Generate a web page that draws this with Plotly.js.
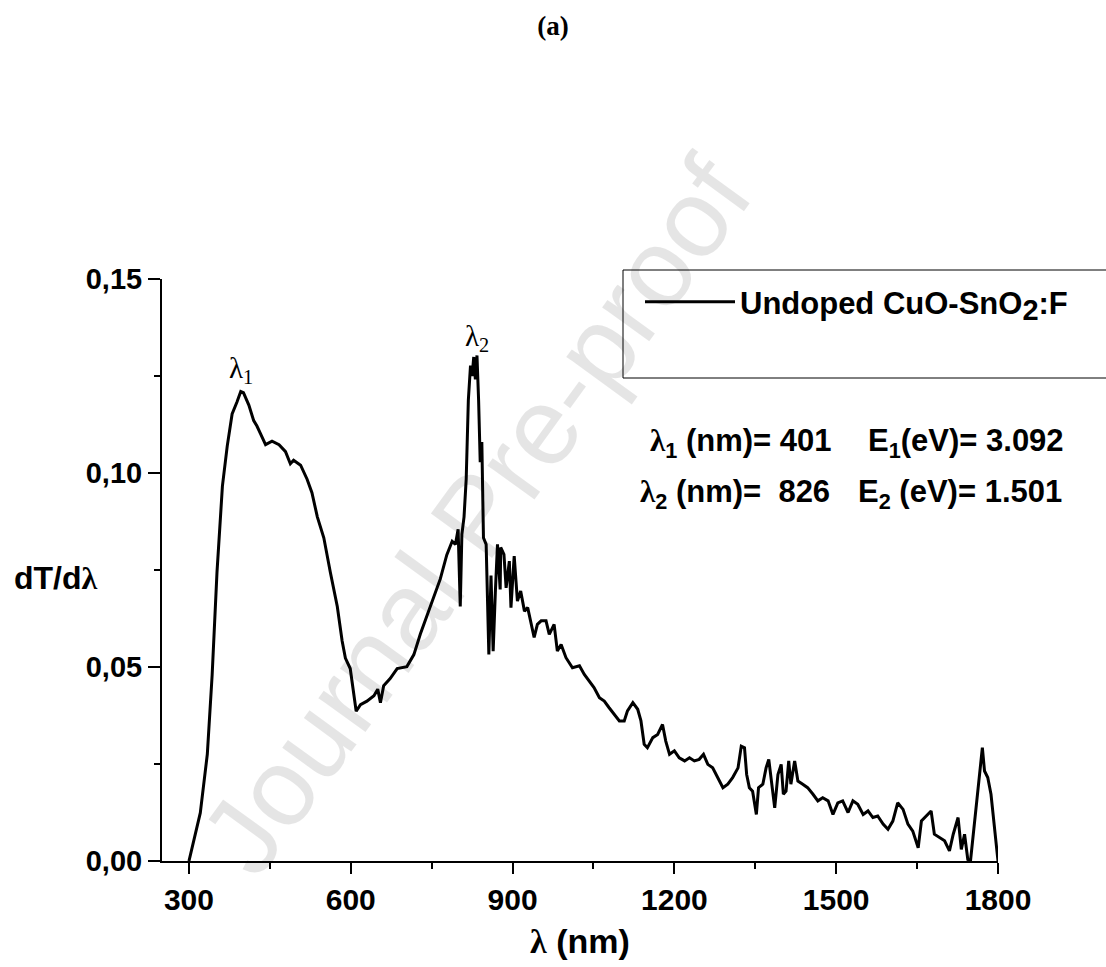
<!DOCTYPE html>
<html><head><meta charset="utf-8">
<script src="https://cdn.plot.ly/plotly-3.0.1.min.js"></script>
<style>body{margin:0;background:#fff}</style>
</head><body>
<div id="chart" style="width:1106px;height:967px"></div>
<script>
// wavelength (nm)
const wavelength = [300,321,334,343,352,362,371,380,389,396,401,411,420,426,433,442,454,467,479,488,494,507,519,528,538,550,562,575,584,590,599,605,610,618,630,643,650,655,661,673,686,704,717,729,741,754,766,778,788,794,799,803,806,810,814,818,822,825,828,831,834,837,840,843,846,851,856,860,864,868,872,877,
878,884,888,894,897,903,909,915,922,928,934,940,946,953,962,968,977,983,990,999,1011,1024,1033,1042,1051,1061,1070,1079,1089,1098,1107,1113,1123,1132,1138,1144,1150,1160,1169,1178,1184,1191,1200,1209,1219,1228,1237,1246,1254,1262,1271,1280,1290,1299,1308,1318,1324,1330,1334,1339,1345,1352,1356,1364,1370,1375,1380,1386,1392,1398,1402,1407,1412,1416,1423,1429,1438,1447,1457,1466,1475,1485,1494,1503,1512,1522,1531,1540,1550,1559,1568,1577,1587,1596,1605,1614,1624,1633,1642,1652,1658,1667,1676,1682,1692,1701,1710,1717,1726,1732,1738,1744,1749,1754,1760,1766,1771,1775,1781,1787,1793,1800];
// dT/dλ
const dTdl = [0,0.0124,0.0275,0.048,0.0745,0.0966,0.107,0.1152,0.1183,0.121,0.1207,0.1175,0.1135,0.1121,0.110,0.1073,0.1082,0.1073,0.1055,0.1024,0.1033,0.102,0.0984,0.0949,0.0887,0.0833,0.0745,0.0656,0.0567,0.0523,0.0496,0.0434,0.0386,0.0403,0.0412,0.0426,0.0443,0.0408,0.0452,0.047,0.0496,0.0501,0.0532,0.0585,0.063,0.0683,0.0727,0.0789,0.0824,0.0816,0.0855,0.0656,0.0842,0.0887,0.0984,0.1188,0.1277,0.125,0.1299,0.1241,0.1303,0.1188,0.1028,0.108,0.0833,0.0816,0.0532,0.0736,0.0541,0.0691,0.0816,0.070,
0.0808,0.079,0.0704,0.0773,0.0653,0.0786,0.067,0.0696,0.0644,0.0653,0.061,0.0576,0.061,0.0619,0.0619,0.0584,0.061,0.0541,0.0558,0.0524,0.0498,0.0503,0.0481,0.0464,0.0447,0.0421,0.0412,0.0395,0.0378,0.0361,0.0361,0.0387,0.0408,0.0391,0.0361,0.0301,0.0292,0.0318,0.0326,0.0352,0.0309,0.0275,0.0284,0.0266,0.0258,0.0266,0.0258,0.0262,0.0275,0.0249,0.024,0.0215,0.0189,0.0198,0.0215,0.024,0.0296,0.0292,0.0223,0.0189,0.018,0.012,0.0189,0.0198,0.024,0.0262,0.0198,0.0137,0.0223,0.0249,0.0172,0.018,0.0258,0.0198,0.0258,0.0206,0.0198,0.0189,0.0172,0.0155,0.0163,0.0155,0.012,0.015,0.0155,0.0125,0.0155,0.0146,0.012,0.0129,0.0112,0.0116,0.0095,0.0082,0.0103,0.015,0.0133,0.0095,0.0077,0.0034,0.0103,0.0116,0.0129,0.0069,0.006,0.0052,0.0026,0.0069,0.0112,0.003,0.0069,0.0004,0,0.0069,0.0146,0.0223,0.0292,0.0232,0.0215,0.0172,0.0095,0];

const xTickVals = [300,600,900,1200,1500,1800];
const xTickText = ['300','600','900','1200','1500','1800'];
const xMinorVals = [450,750,1050,1350,1650];
const yTickVals = [0,0.05,0.10,0.15];
const yTickText = ['0,00','0,05','0,10','0,15'];
const yMinorVals = [0.025,0.075,0.125];
const seriesName = 'Undoped CuO-SnO<sub><span style="font-size:29px">2</span></sub>:F';
const peakLabels = ['λ<sub>1</sub>','λ<sub>2</sub>'];
const peakPos = [[396,0.1215],[834,0.1297]];

const SANS = 'Liberation Sans, Arial, sans-serif';
const SERIF = 'Liberation Serif, Times New Roman, serif';
const L = 162, R = 108, T = 279, B = 106, W = 1106, H = 967;
const pw = W - L - R, ph = H - T - B;
const px = v => (v - L) / pw;
const py = v => (H - B - v) / ph;
const lam = '<span style="font-family:Liberation Serif">λ</span>';

const trace = {
  x: wavelength, y: dTdl, type: 'scatter', mode: 'lines',
  name: seriesName, line: {color: '#000', width: 3}
};

const infoFont = {family: SANS, size: 31, weight: 'bold', color: '#000'};
const info = (text, x, y) => ({text, xref: 'paper', yref: 'paper', x: px(x), y: py(y),
  xanchor: 'left', yanchor: 'middle', showarrow: false, font: infoFont});
const annotations = [
  {text: 'Journal Pre-proof', xref: 'paper', yref: 'paper', x: px(475), y: py(515),
   xanchor: 'center', yanchor: 'middle',
   showarrow: false, textangle: -54, font: {family: SANS, size: 110, color: 'rgba(0,0,0,0.1)'}},
  {text: 'dT/d' + lam, xref: 'paper', yref: 'paper', x: px(12), y: py(578), xanchor: 'left', yanchor: 'middle',
   showarrow: false, font: {family: SANS, size: 32, weight: 'bold', color: '#000'}},
  info(lam + '<sub>1</sub> (nm)= 401', 648, 443),
  info('E<sub>1</sub>(eV)= 3.092', 866, 443),
  info(lam + '<sub>2</sub> (nm)=  826', 638, 494),
  info('E<sub>2</sub> (eV)= 1.501', 856, 494)
];
peakLabels.forEach((t, i) => annotations.push({
  text: t, x: peakPos[i][0], y: peakPos[i][1], showarrow: false, xanchor: 'center', yanchor: 'bottom',
  font: {family: SERIF, size: 29, color: '#000'}
}));

const layout = {
  width: W, height: H,
  margin: {l: L, r: R, t: T, b: B},
  paper_bgcolor: '#fff', plot_bgcolor: '#fff',
  title: {text: '(a)', x: 0.5, xref: 'container', y: 1 - 26 / H, yref: 'container', yanchor: 'middle',
          font: {family: SERIF, size: 27, weight: 'bold', color: '#000'}},
  showlegend: true,
  legend: {x: px(640), y: py(302), xanchor: 'left', yanchor: 'middle', bgcolor: 'rgba(0,0,0,0)',
           borderwidth: 0, itemwidth: 90,
           font: {family: SANS, size: 31, weight: 'bold', color: '#000'}},
  xaxis: {
    range: [250, 1800], showgrid: false, zeroline: false,
    showline: true, linecolor: '#000', linewidth: 2,
    ticks: 'outside', ticklen: 11, tickwidth: 2, tickcolor: '#000',
    tickmode: 'array', tickvals: xTickVals, ticktext: xTickText,
    minor: {tickmode: 'array', tickvals: xMinorVals, ticks: 'outside', ticklen: 6, tickwidth: 2, tickcolor: '#000', showgrid: false},
    tickfont: {family: SANS, size: 30, weight: 'bold', color: '#000'},
    title: {text: lam + ' (nm)', standoff: 14, font: {family: SANS, size: 34, weight: 'bold', color: '#000'}}
  },
  yaxis: {
    range: [0, 0.15], showgrid: false, zeroline: false,
    showline: true, linecolor: '#000', linewidth: 2,
    ticks: 'outside', ticklen: 12, tickwidth: 2, tickcolor: '#000',
    tickmode: 'array', tickvals: yTickVals, ticktext: yTickText,
    minor: {tickmode: 'array', tickvals: yMinorVals, ticks: 'outside', ticklen: 6, tickwidth: 2, tickcolor: '#000', showgrid: false},
    tickfont: {family: SANS, size: 29, weight: 'bold', color: '#000'}
  },
  shapes: [
    {type: 'rect', xref: 'paper', yref: 'paper', x0: px(623), x1: px(1130), y0: py(378), y1: py(270),
     line: {color: '#000', width: 1}, fillcolor: 'rgba(0,0,0,0)'},
    {type: 'line', xref: 'paper', yref: 'paper', x0: px(149), x1: 0, y0: 0, y1: 0,
     line: {color: '#000', width: 2}}
  ],
  annotations: annotations
};

Plotly.newPlot('chart', [trace], layout, {displayModeBar: false, staticPlot: true});
</script>
</body></html>
